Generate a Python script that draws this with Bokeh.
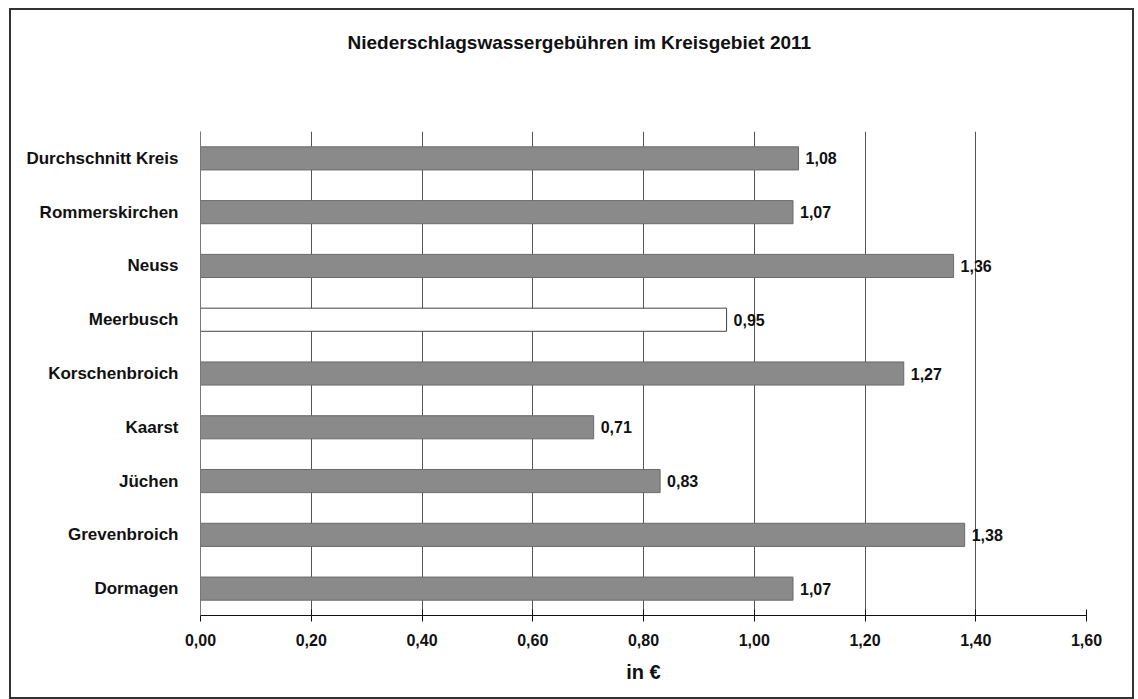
from bokeh.plotting import figure
from bokeh.models import ColumnDataSource, FixedTicker, Range1d, FactorRange, Title
from bokeh.core.properties import value
from bokeh.embed import file_html
from bokeh.resources import INLINE

# data (top to bottom as shown)
categories = ["Durchschnitt Kreis", "Rommerskirchen", "Neuss", "Meerbusch",
              "Korschenbroich", "Kaarst", "Jüchen", "Grevenbroich", "Dormagen"]
values = [1.08, 1.07, 1.36, 0.95, 1.27, 0.71, 0.83, 1.38, 1.07]
highlight = ["Meerbusch"]
x_ticks = [0.0, 0.2, 0.4, 0.6, 0.8, 1.0, 1.2, 1.4, 1.6]
title_text = "Niederschlagswassergebühren im Kreisgebiet 2011"
x_title = "in €"

def de(v):
    return f"{v:.2f}".replace(".", ",")

fills = ["#ffffff" if c in highlight else "#8a8a8a" for c in categories]
lines = ["#444444" if c in highlight else "#6a6a6a" for c in categories]
src = ColumnDataSource(dict(cat=categories, val=values, fill=fills, line=lines,
                            lab=[de(v) for v in values]))

FONT = "Liberation Sans"

p = figure(width=1121, height=687, output_backend="svg", toolbar_location=None,
           y_range=FactorRange(*reversed(categories)), x_range=Range1d(0, 1.6),
           min_border_left=189, min_border_right=46, min_border_top=121, min_border_bottom=82)
p.margin = (10, 0, 0, 11)
p.styles = {"outline": "2px solid #333333"}
p.outline_line_color = None
p.background_fill_color = "white"
p.border_fill_color = "white"

p.hbar(y="cat", right="val", left=0, height=0.43, source=src,
       fill_color="fill", line_color="line", line_width=1)
p.text(x="val", y="cat", text="lab", source=src, x_offset=7,
       text_baseline="middle", text_align="left",
       text_font=value(FONT), text_font_style="bold", text_font_size="16px",
       text_color="#111111")

xa = p.xaxis[0]
xa.ticker = FixedTicker(ticks=x_ticks)
xa.major_label_overrides = {t: de(t) for t in x_ticks}
xa.major_label_text_font = FONT
xa.major_label_text_font_style = "bold"
xa.major_label_text_font_size = "16px"
xa.major_label_text_color = "#111111"
xa.axis_line_color = "#111111"
xa.major_tick_line_color = "#111111"
xa.major_tick_in = 6
xa.major_tick_out = 6
xa.minor_tick_line_color = None
xa.major_label_standoff = 12
xa.axis_label = x_title
xa.axis_label_text_font = FONT
xa.axis_label_text_font_style = "bold"
xa.axis_label_text_font_size = "20px"
xa.axis_label_text_color = "#111111"
xa.axis_label_standoff = 12

ya = p.yaxis[0]
ya.major_label_text_font = FONT
ya.major_label_text_font_style = "bold"
ya.major_label_text_font_size = "17px"
ya.major_label_text_color = "#111111"
ya.axis_line_color = "#777777"
ya.major_tick_line_color = None
ya.major_label_standoff = 16

p.xgrid.grid_line_color = "#555555"
p.xgrid.grid_line_width = 1
p.ygrid.grid_line_color = None

# spacer between title and plot area
p.add_layout(Title(text=" ", standoff=0, vertical_align="top",
                   text_font=FONT, text_font_size="67px"), "above")
p.add_layout(Title(text=title_text, align="left", offset=147, standoff=0,
                   vertical_align="top",
                   text_font=FONT, text_font_style="bold", text_font_size="19px",
                   text_color="#111111"), "above")

open("out.html", "w").write(file_html(p, INLINE))
